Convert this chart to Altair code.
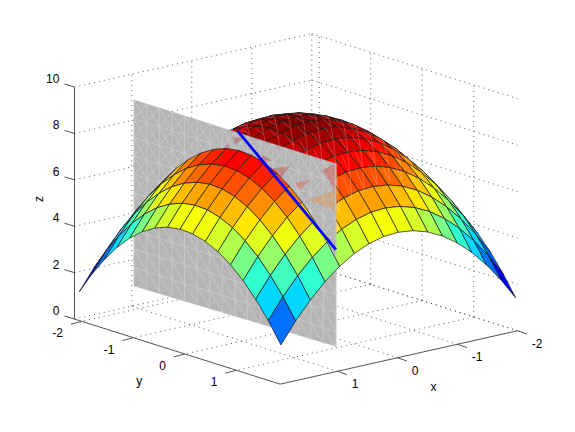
import altair as alt
import pandas as pd

# --- values ---
X_GRID = [-2, -1.75, -1.5, -1.25, -1, -0.75, -0.5, -0.25, 0, 0.25, 0.5, 0.75, 1, 1.25, 1.5, 1.75, 2]
Y_GRID = [-2, -1.75, -1.5, -1.25, -1, -0.75, -0.5, -0.25, 0, 0.25, 0.5, 0.75, 1, 1.25, 1.5, 1.75, 2]
Z_ROWS = [
 [1,1.94,2.75,3.44,4,4.44,4.75,4.94,5,4.94,4.75,4.44,4,3.44,2.75,1.94,1],
 [1.94,2.88,3.69,4.38,4.94,5.38,5.69,5.88,5.94,5.88,5.69,5.38,4.94,4.38,3.69,2.88,1.94],
 [2.75,3.69,4.5,5.19,5.75,6.19,6.5,6.69,6.75,6.69,6.5,6.19,5.75,5.19,4.5,3.69,2.75],
 [3.44,4.38,5.19,5.88,6.44,6.88,7.19,7.38,7.44,7.38,7.19,6.88,6.44,5.88,5.19,4.38,3.44],
 [4,4.94,5.75,6.44,7,7.44,7.75,7.94,8,7.94,7.75,7.44,7,6.44,5.75,4.94,4],
 [4.44,5.38,6.19,6.88,7.44,7.88,8.19,8.38,8.44,8.38,8.19,7.88,7.44,6.88,6.19,5.38,4.44],
 [4.75,5.69,6.5,7.19,7.75,8.19,8.5,8.69,8.75,8.69,8.5,8.19,7.75,7.19,6.5,5.69,4.75],
 [4.94,5.88,6.69,7.38,7.94,8.38,8.69,8.88,8.94,8.88,8.69,8.38,7.94,7.38,6.69,5.88,4.94],
 [5,5.94,6.75,7.44,8,8.44,8.75,8.94,9,8.94,8.75,8.44,8,7.44,6.75,5.94,5],
 [4.94,5.88,6.69,7.38,7.94,8.38,8.69,8.88,8.94,8.88,8.69,8.38,7.94,7.38,6.69,5.88,4.94],
 [4.75,5.69,6.5,7.19,7.75,8.19,8.5,8.69,8.75,8.69,8.5,8.19,7.75,7.19,6.5,5.69,4.75],
 [4.44,5.38,6.19,6.88,7.44,7.88,8.19,8.38,8.44,8.38,8.19,7.88,7.44,6.88,6.19,5.38,4.44],
 [4,4.94,5.75,6.44,7,7.44,7.75,7.94,8,7.94,7.75,7.44,7,6.44,5.75,4.94,4],
 [3.44,4.38,5.19,5.88,6.44,6.88,7.19,7.38,7.44,7.38,7.19,6.88,6.44,5.88,5.19,4.38,3.44],
 [2.75,3.69,4.5,5.19,5.75,6.19,6.5,6.69,6.75,6.69,6.5,6.19,5.75,5.19,4.5,3.69,2.75],
 [1.94,2.88,3.69,4.38,4.94,5.38,5.69,5.88,5.94,5.88,5.69,5.38,4.94,4.38,3.69,2.88,1.94],
 [1,1.94,2.75,3.44,4,4.44,4.75,4.94,5,4.94,4.75,4.44,4,3.44,2.75,1.94,1],
]
X_TICKS = [-2, -1, 0, 1]
Y_TICKS = [-2, -1, 0, 1]
Z_TICKS = [0, 2, 4, 6, 8, 10]
X_RANGE = [-2, 1.955]
Y_RANGE = [-2.144, 1.85]
PLANE_X = 1
PLANE_Y = [-2.1, 1.82]
PLANE_Z_BOTTOM = [0.9, 1.06]
PLANE_Z_TOP = 8.92
PLANE_Z_LINES = [1.7, 2.5, 3.3, 4.1, 4.9, 5.7, 6.5, 7.3, 8.1]
BLUE_LINE = [(1, -0.09, 9.0), (1, 1.82, 5.22)]
# see-through fragments on the plane: (y, z) corners and colour value
FRAGMENTS = [
 ([(-0.47,7.86),(-0.276,8.26),(-0.2,7.97)], 8.6),
 ([(0.579,7.85),(0.93,8.2),(0.695,7.35)], 8.3),
 ([(1.55,8.46),(1.8,8.9),(1.8,7.78)], 8.0),
 ([(1.025,7.54),(1.317,7.87),(1.12,7.3)], 7.8),
 ([(1.28,6.98),(1.8,7.78),(1.8,6.9)], 7.0),
 ([(-0.18,8.67),(0.016,8.77),(-0.14,8.35)], 8.7),
 ([(0.385,8.3),(0.58,8.2),(0.40,7.96)], 8.4),
]
JET_DOMAIN = [1, 2, 4, 6, 8, 9]
JET_RANGE = ["#00008f", "#0000ff", "#00ffff", "#ffff00", "#ff0000", "#800000"]
FRONT_ROW = 12

# --- view of the box ---
ORIGIN = (319.2, 268.0)
EX = (-60.0, 13.5)
EY = (51.5, 16.3)
EZ = -23.2
# --- view of the surface ---
S_CENTER = (297.5, 294.85)
S_EX = (-58.7, 11.75)
S_EY = (50.4, 13.3)
S_EZ = -22.3


def P(x, y, z):
    return (ORIGIN[0] + (x + 2) * EX[0] + (y + 2) * EY[0],
            ORIGIN[1] + (x + 2) * EX[1] + (y + 2) * EY[1] + z * EZ)


def S(x, y, z):
    return (S_CENTER[0] + x * S_EX[0] + y * S_EY[0],
            S_CENTER[1] + x * S_EX[1] + y * S_EY[1] + (z - 1) * S_EZ)


W, H = 559, 416
sx = alt.X("sx:Q", scale=alt.Scale(domain=[8, 8 + W], nice=False, zero=False), axis=None)
sy = alt.Y("sy:Q", scale=alt.Scale(domain=[8 + H, 8], nice=False, zero=False), axis=None)
fill_enc = alt.Fill("v:Q", scale=alt.Scale(domain=JET_DOMAIN, range=JET_RANGE, interpolate="rgb"), legend=None)


def cell_rows(i_range):
    rows = []
    for i in i_range:
        for j in range(len(Y_GRID) - 1):
            corners = [(i, j), (i + 1, j), (i + 1, j + 1), (i, j + 1), (i, j)]
            v = Z_ROWS[i][j]
            cid = f"{i:02d}_{j:02d}"
            for k, (a, b) in enumerate(corners):
                px, py = S(X_GRID[a], Y_GRID[b], Z_ROWS[a][b])
                rows.append(dict(id=cid, o=k, sx=px, sy=py, v=v))
    return rows


def facing(i, j):
    a = S(X_GRID[i], Y_GRID[j], Z_ROWS[i][j])
    b = S(X_GRID[i + 1], Y_GRID[j], Z_ROWS[i + 1][j])
    c = S(X_GRID[i], Y_GRID[j + 1], Z_ROWS[i][j + 1])
    return (b[0] - a[0]) * (c[1] - a[1]) - (b[1] - a[1]) * (c[0] - a[0])


def streak_rows(i_range):
    rows = []
    for i in i_range:
        for j in range(len(Y_GRID) - 1):
            if facing(i, j) <= 0:
                continue
            p = [S(X_GRID[a], Y_GRID[b], Z_ROWS[a][b]) for a, b in
                 [(i, j), (i + 1, j), (i + 1, j + 1), (i, j + 1)]]
            for n, (s, e) in enumerate([(p[0], p[2]),
                                        (p[0], ((p[1][0] + p[2][0]) / 2, (p[1][1] + p[2][1]) / 2))]):
                cid = f"{i}_{j}_{n}"
                rows.append(dict(id=cid, o=0, sx=s[0], sy=s[1]))
                rows.append(dict(id=cid, o=1, sx=e[0], sy=e[1]))
    return rows


def polys(rows):
    return alt.Chart(pd.DataFrame(rows)).mark_line(
        stroke="#1c1c1c", strokeWidth=0.8, strokeOpacity=0.9, strokeJoin="round"
    ).encode(x=sx, y=sy, detail="id:N", order="o:Q", fill=fill_enc)


def lines(rows, **style):
    return alt.Chart(pd.DataFrame(rows)).mark_line(**style).encode(
        x=sx, y=sy, detail="id:N", order="o:Q")


def seg(rows, cid, a, b):
    rows.append(dict(id=cid, o=0, sx=a[0], sy=a[1]))
    rows.append(dict(id=cid, o=1, sx=b[0], sy=b[1]))


# grid
grid = []
x0, x1 = X_RANGE
y0, y1 = Y_RANGE
for t in X_TICKS:
    seg(grid, f"fx{t}", P(t, y0, 0), P(t, y1, 0))
    seg(grid, f"wx{t}", P(t, y0, 0), P(t, y0, 10))
for t in Y_TICKS:
    seg(grid, f"fy{t}", P(x0, t, 0), P(x1, t, 0))
    seg(grid, f"wy{t}", P(x0, t, 0), P(x0, t, 10))
for t in Z_TICKS:
    seg(grid, f"za{t}", P(x1, y0, t), P(x0, y0, t))
    seg(grid, f"zb{t}", P(x0, y0, t), P(x0, y1, t))
grid_layer = lines(grid, stroke="#333333", strokeWidth=0.8, strokeDash=[1, 4])

# axes
ax = []
seg(ax, "z", P(x1, y0, 0), P(x1, y0, 10))
seg(ax, "y", P(x1, y0, 0), P(x1, y1, 0))
seg(ax, "x", P(x1, y1, 0), P(x0, y1, 0))
for t in Z_TICKS:
    a = P(x1, y0, t)
    seg(ax, f"tz{t}", a, (a[0] - 10, a[1] - 3))
for t in Y_TICKS:
    a = P(x1, t, 0)
    seg(ax, f"ty{t}", a, (a[0] - 11, a[1] + 2.8))
for t in X_TICKS:
    a = P(t, y1, 0)
    seg(ax, f"tx{t}", a, (a[0] + 9.5, a[1] + 3.3))
axis_layer = lines(ax, stroke="#555555", strokeWidth=1)

# plane
p_corners = [P(PLANE_X, PLANE_Y[0], PLANE_Z_BOTTOM[0]), P(PLANE_X, PLANE_Y[1], PLANE_Z_BOTTOM[1]),
             P(PLANE_X, PLANE_Y[1], PLANE_Z_TOP), P(PLANE_X, PLANE_Y[0], PLANE_Z_TOP)]
p_corners.append(p_corners[0])
plane_fill = alt.Chart(pd.DataFrame(
    [dict(id="p", o=k, sx=c[0], sy=c[1]) for k, c in enumerate(p_corners)]
)).mark_line(fill="#b5b5b5", stroke="#b5b5b5", strokeWidth=0.5).encode(
    x=sx, y=sy, detail="id:N", order="o:Q")

p_lines = []
ys = [PLANE_Y[0] + (PLANE_Y[1] - PLANE_Y[0]) * n / 16 for n in range(17)]
for y in ys:
    seg(p_lines, f"v{y}", P(PLANE_X, y, 1.0), P(PLANE_X, y, PLANE_Z_TOP))
for z in PLANE_Z_LINES:
    seg(p_lines, f"h{z}", P(PLANE_X, PLANE_Y[0], z), P(PLANE_X, PLANE_Y[1], z))
zs = [1.0] + PLANE_Z_LINES + [PLANE_Z_TOP]
for a in range(len(ys) - 1):
    for b in range(len(zs) - 1):
        seg(p_lines, f"d{a}_{b}", P(PLANE_X, ys[a], zs[b + 1]), P(PLANE_X, ys[a + 1], zs[b]))
        if zs[b] >= 4.9:
            seg(p_lines, f"e{a}_{b}", P(PLANE_X, ys[a], zs[b]), P(PLANE_X, ys[a + 1], zs[b + 1]))
plane_lines = lines(p_lines, stroke="#cccccc", strokeWidth=0.8)

frag_rows = []
for n, (tri, v) in enumerate(FRAGMENTS):
    for k, (y, z) in enumerate(tri + tri[:1]):
        px, py = P(PLANE_X, y, z)
        frag_rows.append(dict(id=f"f{n}", o=k, sx=px, sy=py, v=v))
frag_layer = alt.Chart(pd.DataFrame(frag_rows)).mark_line(
    strokeWidth=0, fillOpacity=0.25
).encode(x=sx, y=sy, detail="id:N", order="o:Q", fill=fill_enc)

blue = lines([dict(id="b", o=k, sx=P(*q)[0], sy=P(*q)[1]) for k, q in enumerate(BLUE_LINE)],
             stroke="#0000ff", strokeWidth=2.8)

back = range(0, FRONT_ROW)
front = range(FRONT_ROW, len(X_GRID) - 1)
STREAK = dict(stroke="#ffffff", strokeOpacity=0.28, strokeWidth=0.8)

# labels
tick_rows = [dict(t=str(t), sx=P(t, y1, 0)[0], sy=P(t, y1, 0)[1]) for t in X_TICKS]
ytick_rows = [dict(t=str(t), sx=P(x1, t, 0)[0], sy=P(x1, t, 0)[1]) for t in Y_TICKS]
ztick_rows = [dict(t=str(t), sx=P(x1, y0, t)[0], sy=P(x1, y0, t)[1]) for t in Z_TICKS]
FONT = dict(font="Liberation Sans", fontSize=12, color="#000000", baseline="middle")
text_enc = dict(x=sx, y=sy, text="t:N")
xlab = alt.Chart(pd.DataFrame(tick_rows)).mark_text(align="left", dx=14.3, dy=13, **FONT).encode(**text_enc)
ylab = alt.Chart(pd.DataFrame(ytick_rows)).mark_text(align="right", dx=-19, dy=12, **FONT).encode(**text_enc)
zlab = alt.Chart(pd.DataFrame(ztick_rows)).mark_text(align="right", dx=-15, dy=-8, **FONT).encode(**text_enc)
xt = alt.Chart(pd.DataFrame([dict(t="x", sx=P(0.5, y1, 0)[0], sy=P(0.5, y1, 0)[1])])).mark_text(
    dx=66, dy=22, **FONT).encode(**text_enc)
yt = alt.Chart(pd.DataFrame([dict(t="y", sx=P(x1, -0.5, 0)[0], sy=P(x1, -0.5, 0)[1])])).mark_text(
    dx=-20, dy=35, **FONT).encode(**text_enc)
zt = alt.Chart(pd.DataFrame([dict(t="z", sx=P(x1, y0, 5)[0], sy=P(x1, y0, 5)[1])])).mark_text(
    dx=4, dy=-35, angle=270, **FONT).encode(**text_enc)

chart = alt.layer(
    grid_layer, axis_layer,
    polys(cell_rows(back)), lines(streak_rows(back), **STREAK),
    plane_fill, plane_lines, frag_layer,
    polys(cell_rows(front)), lines(streak_rows(front), **STREAK),
    blue, xlab, ylab, zlab, xt, yt, zt,
).properties(width=W, height=H, padding=0, autosize=alt.AutoSizeParams(type="none")).configure_view(stroke=None)

chart.save("out.html", embed_options={"renderer": "svg", "actions": False})
